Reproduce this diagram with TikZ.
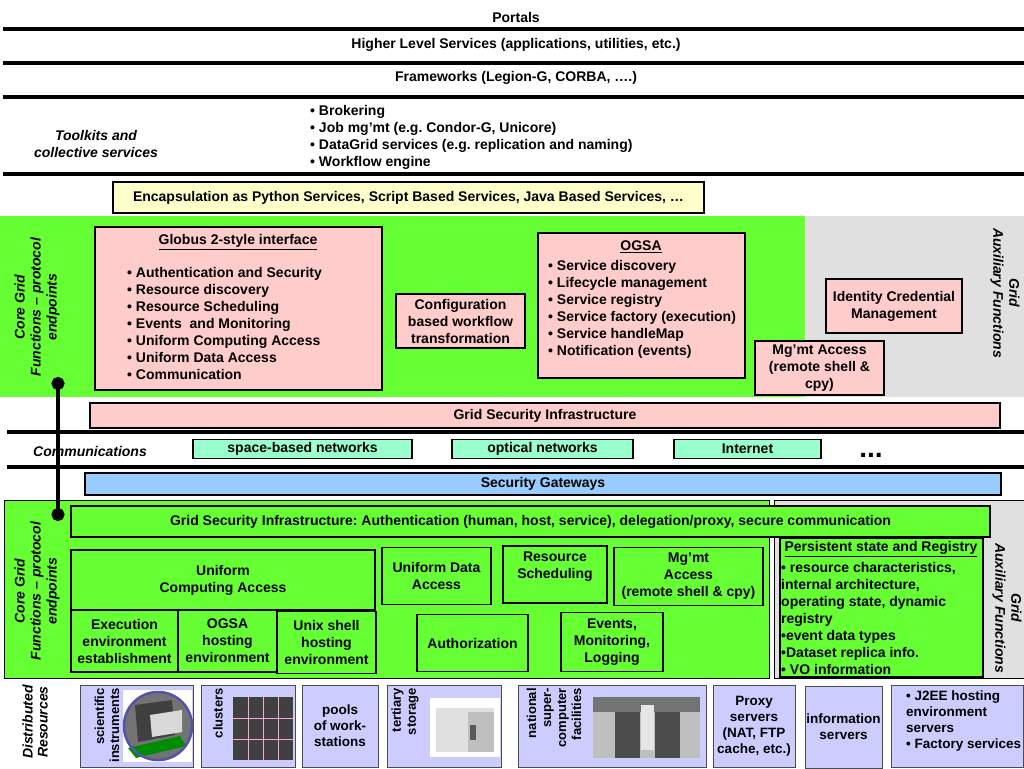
\documentclass[tikz,border=0pt]{standalone}
\usepackage{fontspec}
\setmainfont{Liberation Sans}
\frenchspacing
\usetikzlibrary{arrows.meta}
\definecolor{coreGreen}{HTML}{66FF33}
\definecolor{auxGray}{HTML}{E0E0E0}
\definecolor{gsiPink}{HTML}{FFCCCC}
\definecolor{netAqua}{HTML}{99FFCC}
\definecolor{gateBlue}{HTML}{99CCFF}
\definecolor{encYellow}{HTML}{FFFFCC}
\definecolor{resLilac}{HTML}{CCCCFF}
\newcommand{\mainFont}[0]{\bfseries\fontsize{14}{17}\selectfont}
\newcommand{\sideFont}[0]{\bfseries\itshape\fontsize{14}{16}\selectfont}
\newcommand{\resFont}[0]{\bfseries\fontsize{13.5}{16}\selectfont}

\begin{document}
\begin{tikzpicture}[x=1pt, y=-1pt]
  \tikzset{
    txt/.style={font=\mainFont, align=center, inner sep=0pt},
    side/.style={font=\sideFont, align=center, inner sep=0pt},
    rule/.style={line width=3.5pt},
    blk/.style 2 args={draw, line width=1.8pt, font=\mainFont, align=center, inner sep=0pt, minimum width=#1, minimum height=#2},
    res/.style={draw=black!70, line width=1pt, fill=resLilac, minimum width=#1, minimum height=82pt, inner sep=0pt, font=\resFont, align=center},
    restxt/.style={font=\bfseries\fontsize{13}{15}\selectfont, align=right, inner sep=0pt, rotate=90, anchor=east}
  }
  \useasboundingbox (0,0) rectangle (1024,768);
  % upper layers
  \node[txt] (portals) at (516,17) {Portals};
  \draw[rule] (3,29) -- (1024,29);
  \node[txt] (higher) at (516,45) {Higher Level Services (applications, utilities, etc.)};
  \draw[rule] (3,63) -- (1024,63);
  \node[txt] (frameworks) at (516,78) {Frameworks (Legion-G, CORBA, ….)};
  \draw[rule] (3,97) -- (1024,97);
  \node[side, font=\bfseries\itshape\fontsize{14}{17}\selectfont] (toolkits) at (96,144) {Toolkits and\\collective services};
  \node[txt, anchor=west, align=left] (collective) at (310,137) {• Brokering\\• Job mg’mt (e.g. Condor-G, Unicore)\\• DataGrid services (e.g. replication and naming)\\• Workflow engine};
  \draw[rule] (3,174) -- (1024,174);
  \node[blk={591pt}{31pt}, fill=encYellow] (encaps) at (408.5,197.5) {Encapsulation as Python Services, Script Based Services, Java Based Services, …};

  % core grid functions, upper half
  \fill[coreGreen] (0,216) rectangle (805,397);
  \fill[auxGray] (805,216) rectangle (1024,397);
  \node[side, rotate=90] (coreUp) at (37,307) {Core Grid\\Functions – protocol\\endpoints};
  \node[blk={287pt}{163pt}, fill=gsiPink] (globus) at (238.5,308.5) {};
  \node[txt] (globusTitle) at (238,242) {\underline{Globus 2-style interface}};
  \node[txt, anchor=west, align=left] (globusList) at (127,323) {• Authentication and Security\\• Resource discovery\\• Resource Scheduling\\• Events \ and Monitoring\\• Uniform Computing Access\\• Uniform Data Access\\• Communication};
  \node[blk={129pt}{54pt}, fill=gsiPink] (config) at (460.5,321) {Configuration\\based workflow\\transformation};
  \node[blk={207pt}{145pt}, fill=gsiPink] (ogsa) at (641.5,305.5) {};
  \node[txt] (ogsaTitle) at (641,247) {\underline{OGSA}};
  \node[txt, anchor=west, align=left] (ogsaList) at (548,309) {• Service discovery\\• Lifecycle management\\• Service registry\\• Service factory (execution)\\• Service handleMap\\• Notification (events)};
  \node[blk={136pt}{54pt}, fill=gsiPink] (identity) at (894,306) {Identity Credential\\Management};
  \node[blk={129pt}{54pt}, fill=gsiPink] (mgmtUp) at (819.5,368) {Mg’mt Access\\(remote shell \&\\cpy)};
  \node[side, rotate=-90] (auxUp) at (1005,293) {Grid\\Auxiliary Functions};

  % security and networks
  \node[blk={910pt}{25pt}, fill=gsiPink] (gsiUp) at (545,415.5) {Grid Security Infrastructure};
  \draw[rule] (7,432) -- (1024,432);
  \draw[rule] (7,467) -- (1024,467);
  \node[side] (comm) at (90,451) {Communications};
  \node[blk={219pt}{19pt}, fill=netAqua] (spaceNet) at (302.5,449) {space-based networks};
  \node[blk={181pt}{19pt}, fill=netAqua] (opticalNet) at (542.5,449) {optical networks};
  \node[blk={147pt}{19pt}, fill=netAqua] (internet) at (747.5,449) {Internet};
  \node[txt, font=\bfseries\fontsize{28}{28}\selectfont] (moreNet) at (871,455) {...};
  \node[blk={916pt}{22pt}, fill=gateBlue] (gates) at (543,484) {Security Gateways};

  % core grid functions, lower half
  \draw[fill=coreGreen, line width=0.8pt] (4,500) rectangle (769,678);
  \draw[fill=auxGray, line width=0.8pt] (774,500) rectangle (1026,678);
  \node[side, rotate=90] (coreLow) at (37,591) {Core Grid\\Functions – protocol\\endpoints};
  \node[blk={919pt}{31pt}, fill=coreGreen] (gsiLow) at (530.5,521.5) {Grid Security Infrastructure: Authentication (human, host, service), delegation/proxy, secure communication};
  \node[blk={304pt}{60pt}, fill=coreGreen] (uca) at (223,580) {Uniform\\Computing Access};
  \node[blk={109pt}{57pt}, fill=coreGreen] (uda) at (436.5,576) {Uniform Data\\Access};
  \node[blk={104pt}{57pt}, fill=coreGreen] (rsched) at (555,574.5) {};
  \node[txt] (rschedTxt) at (555,567) {Resource\\Scheduling};
  \node[blk={149pt}{58pt}, fill=coreGreen] (mgmtLow) at (688.5,576.5) {Mg’mt\\Access\\(remote shell \& cpy)};
  \node[blk={107pt}{62pt}, fill=coreGreen] (execEnv) at (124.5,641) {Execution\\environment\\establishment};
  \node[blk={99pt}{62pt}, fill=coreGreen] (ogsaHost) at (227.5,641) {OGSA\\hosting\\environment};
  \node[blk={99pt}{62pt}, fill=coreGreen] (unixHost) at (326.5,642.5) {Unix shell\\hosting\\environment};
  \node[blk={111pt}{57pt}, fill=coreGreen] (authz) at (472.5,643) {Authorization};
  \node[blk={102pt}{59pt}, fill=coreGreen] (events) at (612,642) {Events,\\Monitoring,\\Logging};
  \node[blk={203pt}{139pt}, fill=coreGreen] (persist) at (881.5,607.5) {};
  \node[txt] (persistTitle) at (881,549) {\underline{Persistent state and Registry}};
  \node[txt, anchor=west, align=left] (persistList) at (781,618) {• resource characteristics,\\internal architecture,\\operating state, dynamic\\registry\\•event data types\\•Dataset replica info.\\• VO information};
  \node[side, rotate=-90] (auxLow) at (1007,608) {Grid\\Auxiliary Functions};

  % link between the two halves
  \coordinate (linkTop) at (58,377);
  \coordinate (linkBot) at (58,521);
  \draw[line width=3.5pt, {Circle[length=13pt]}-{Circle[length=13pt]}] (linkTop) -- (linkBot);

  % distributed resources
  \node[side, font=\bfseries\itshape\fontsize{14}{15}\selectfont, rotate=90] (distrib) at (35,722) {Distributed\\Resources};
  \node[res=113pt] (instruments) at (136.5,726) {};
  \node[restxt] (instrumentsTxt) at (107,688) {scientific\\instruments};
  \fill[white] (123,690) rectangle (192,762);
  \fill[black!55] (158,726) circle (35);
  \fill[black!75] (135,705) -- (172,700) -- (175,735) -- (138,742) -- cycle;
  \fill[black!15] (150,715) -- (182,710) -- (182,732) -- (152,737) -- cycle;
  \fill[green!55!black] (128,748) -- (180,736) -- (186,746) -- (136,758) -- cycle;
  \draw[blue!35!gray, line width=2.5pt] (158,726) circle (34);
  \node[res=94pt] (clusters) at (248,726) {};
  \node[restxt] (clustersTxt) at (218,688) {clusters};
  \fill[black!75] (233,697) rectangle (293,760);
  \draw[magenta!35] (248,697) -- (248,760) (263,697) -- (263,760) (278,697) -- (278,760) (233,718) -- (293,718) (233,739) -- (293,739);
  \node[res=76pt] (pools) at (340,726) {pools\\of work-\\stations};
  \node[res=114pt] (tertiary) at (444,726) {};
  \node[restxt] (tertiaryTxt) at (405,688) {tertiary\\storage};
  \fill[white] (430,698) rectangle (500,757);
  \fill[black!12] (436,708) rectangle (494,752);
  \fill[black!25] (468,712) rectangle (494,752);
  \fill[black!65] (470,725) rectangle (476,740);
  \node[res=188pt] (supercomp) at (612,726) {};
  \node[restxt] (supercompTxt) at (554,688) {national\\super-\\computer\\facilities};
  \fill[black!25] (593,697) rectangle (700,758);
  \fill[black!55] (593,697) rectangle (700,712);
  \fill[black!70] (615,712) rectangle (640,758);
  \fill[black!70] (655,712) rectangle (680,758);
  \fill[black!10] (641,705) rectangle (654,750);
  \node[res=82pt] (proxy) at (754,726) {Proxy\\servers\\(NAT, FTP\\cache, etc.)};
  \node[res=77pt] (infoSrv) at (843.5,727) {information\\servers};
  \node[res=132pt] (j2ee) at (957,726) {};
  \node[txt, font=\resFont, anchor=west, align=left] (j2eeTxt) at (906,721) {• J2EE hosting\\environment\\servers\\• Factory services};
\end{tikzpicture}
\end{document}
